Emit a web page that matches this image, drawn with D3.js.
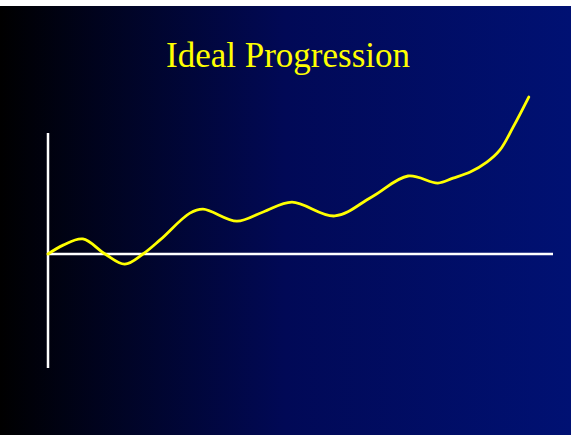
<!DOCTYPE html>
<html>
<head>
<meta charset="utf-8">
<script src="https://cdn.jsdelivr.net/npm/d3@7"></script>
<style>
  html, body { margin: 0; padding: 0; background: #fff; }
  svg { display: block; }
</style>
</head>
<body>
<script>
// curve, x in 0..100 along the axis, y in axis units
const progressX = [0, 3.0, 6.9, 11.3, 15.2, 18.8, 22.2, 28.1, 30.7, 37.4, 42.6, 48.3, 56.8, 64.1, 71.3, 77.2, 80.2, 83.6, 86.9, 89.5, 92.1, 95.2];
const progressY = [0, 3.8, 6.4, 0, -4.3, 0, 6.0, 17.4, 19.1, 14.0, 17.9, 22.1, 16.2, 24.3, 33.2, 30.2, 32.3, 34.9, 39.1, 44.3, 54.0, 66.8];
const titleText = "Ideal Progression";

const W = 571, H = 435;

const svg = d3.select("body").append("svg")
    .attr("width", W).attr("height", H);

// slide background, black to navy
let grad = svg.append("defs").append("linearGradient")
    .attr("id", "bg").attr("x1", "0").attr("x2", "1").attr("y1", "0").attr("y2", "0");
grad.append("stop").attr("offset", "0").attr("stop-color", "#000000");
grad.append("stop").attr("offset", "0.5").attr("stop-color", "#010956");
grad.append("stop").attr("offset", "1").attr("stop-color", "#001173");

svg.append("rect")
    .attr("x", 0).attr("y", 6).attr("width", W).attr("height", H - 6)
    .attr("fill", "url(#bg)");

svg.append("text")
    .attr("x", 288).attr("y", 67)
    .attr("text-anchor", "middle")
    .attr("font-family", "'Liberation Serif', 'Times New Roman', serif")
    .attr("font-size", 35)
    .attr("fill", "#ffff00")
    .text(titleText);

let x = d3.scaleLinear().domain([0, 100]).range([48, 553]);
let y = d3.scaleLinear().domain([-48.5, 51.5]).range([368, 133]);

// axes: plain white lines
svg.append("line")
    .attr("x1", x(0)).attr("x2", x(0))
    .attr("y1", y(-48.5)).attr("y2", y(51.5))
    .attr("stroke", "#ffffff").attr("stroke-width", 2.5);
svg.append("line")
    .attr("x1", x(0)).attr("x2", x(100))
    .attr("y1", y(0)).attr("y2", y(0))
    .attr("stroke", "#ffffff").attr("stroke-width", 2.5);

let pts = progressX.map((v, i) => [v, progressY[i]]);
let line = d3.line()
    .x(d => x(d[0]))
    .y(d => y(d[1]))
    .curve(d3.curveCatmullRom.alpha(0.5));

svg.append("path")
    .datum(pts)
    .attr("d", line)
    .attr("fill", "none")
    .attr("stroke", "#ffff00")
    .attr("stroke-width", 2.8)
    .attr("stroke-linecap", "round");
</script>
</body>
</html>
